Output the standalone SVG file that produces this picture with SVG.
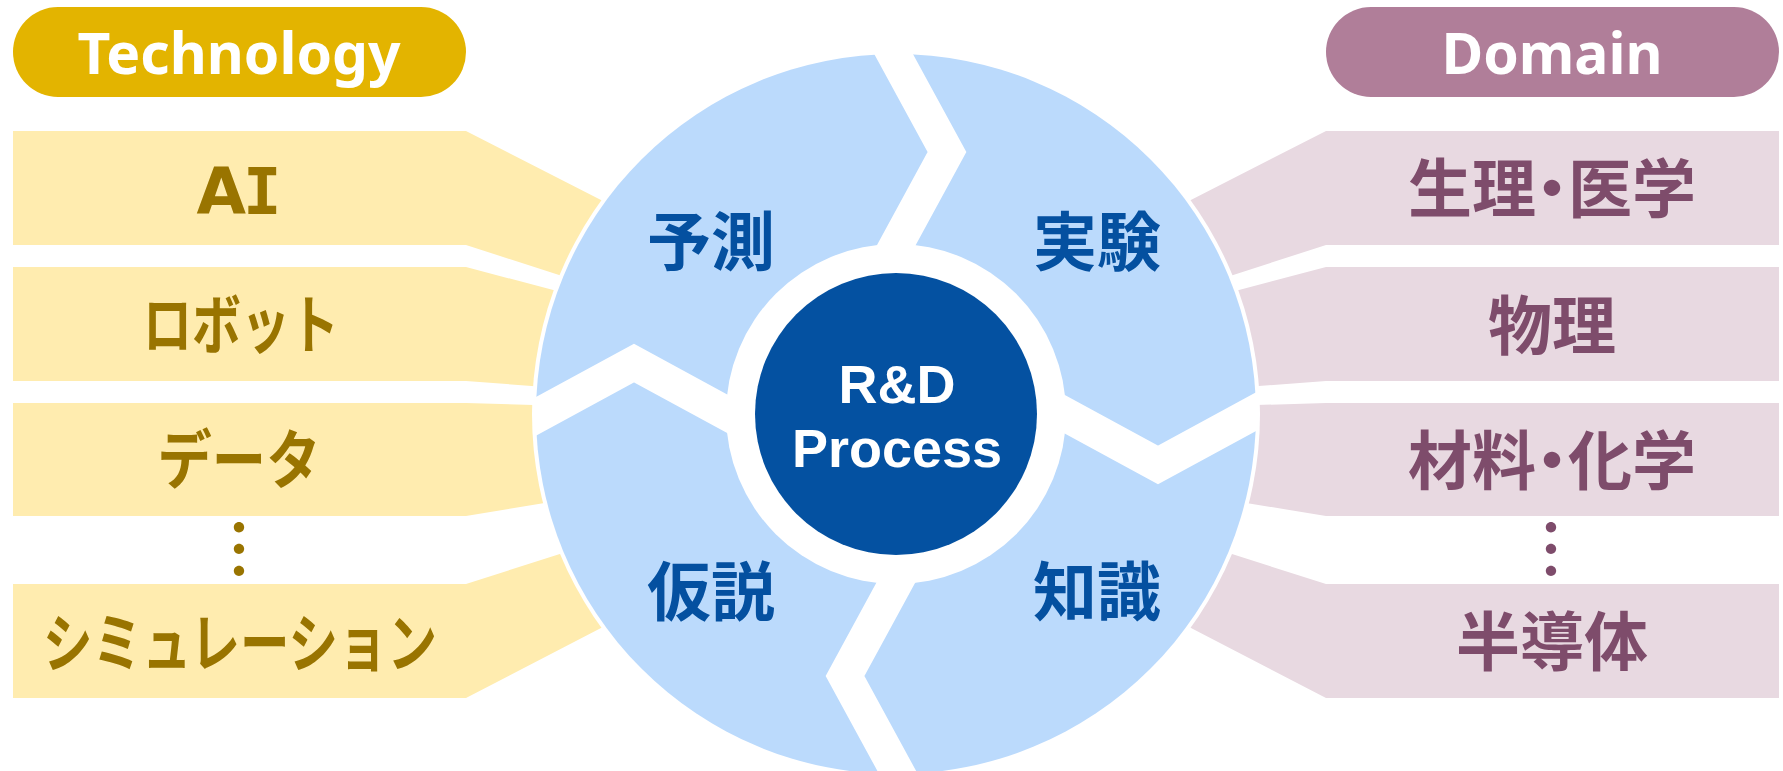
<svg xmlns="http://www.w3.org/2000/svg" width="1783" height="771" viewBox="0 0 1783 771">
  <style>
    .pill-tech { fill: #E3B400; }
    .pill-dom { fill: #B07E99; }
    .bar-tech { fill: #FFECAF; }
    .bar-dom { fill: #E8D9E1; }
    .head { font-family: "Noto Sans", "Open Sans", sans-serif; font-weight: 700; font-size: 57px; fill: #FFFFFF; text-anchor: middle; }
    .jp { font-family: "Noto Sans CJK JP", sans-serif; font-weight: 700; font-size: 64px; text-anchor: middle; }
    .lat { font-family: "DejaVu Sans", sans-serif; font-weight: 700; font-size: 64px; text-anchor: middle; }
    .half { font-feature-settings: "halt"; }
    .tech-txt { fill: #997400; }
    .dom-txt { fill: #7E4C6B; }
    .step { fill: #0450A0; }
    .core-txt { font-family: "Liberation Sans", Arial, sans-serif; font-weight: 700; font-size: 54px; fill: #FFFFFF; text-anchor: middle; }
    .gap { fill: none; stroke: #FFFFFF; stroke-width: 34; stroke-linejoin: miter; }
  </style>
  <defs>
    <clipPath id="ring-clip">
      <circle cx="896" cy="414" r="361"/>
    </clipPath>
  </defs>

  <!-- category headers -->
  <g id="technology-header">
    <rect class="pill-tech" x="13" y="7" width="453" height="90" rx="45" ry="45"/>
    <text class="head" x="239" y="74">Technology</text>
  </g>
  <g id="domain-header">
    <rect class="pill-dom" x="1326" y="7" width="453" height="90" rx="45" ry="45"/>
    <text class="head" x="1552" y="74">Domain</text>
  </g>

  <!-- technology bars (left) -->
  <g id="tech-ai">
    <polygon class="bar-tech" points="13,131 466,131 720,260.8 720,326.9 466,245 13,245"/>
    <text class="lat tech-txt" x="239" y="214">A<tspan dx="-3" font-family="DejaVu Sans Mono">I</tspan></text>
  </g>
  <g id="tech-robot">
    <polygon class="bar-tech" points="13,267 466,267 720,334.2 720,399.9 466,381 13,381"/>
    <text class="jp tech-txt" x="241" y="348" textLength="196" lengthAdjust="spacingAndGlyphs">ロボット</text>
  </g>
  <g id="tech-data">
    <polygon class="bar-tech" points="13,403 466,403 720,410.6 720,474.3 466,516 13,516"/>
    <text class="jp tech-txt" x="239" y="483" textLength="163" lengthAdjust="spacingAndGlyphs">データ</text>
  </g>
  <g id="tech-more">
    <text class="jp tech-txt" x="239" y="573">︙</text>
  </g>
  <g id="tech-simulation">
    <polygon class="bar-tech" points="13,584 466,584 720,503 720,566.3 466,698 13,698"/>
    <text class="jp tech-txt" x="240" y="666" textLength="394" lengthAdjust="spacingAndGlyphs">シミュレーション</text>
  </g>

  <!-- domain bars (right) -->
  <g id="domain-medicine">
    <polygon class="bar-dom" points="1779,131 1326,131 1072,260.8 1072,326.9 1326,245 1779,245"/>
    <text class="jp half dom-txt" x="1552" y="212">生理・医学</text>
  </g>
  <g id="domain-physics">
    <polygon class="bar-dom" points="1779,267 1326,267 1072,334.2 1072,399.9 1326,381 1779,381"/>
    <text class="jp dom-txt" x="1552" y="349">物理</text>
  </g>
  <g id="domain-chemistry">
    <polygon class="bar-dom" points="1779,403 1326,403 1072,410.6 1072,474.3 1326,516 1779,516"/>
    <text class="jp half dom-txt" x="1552" y="484">材料・化学</text>
  </g>
  <g id="domain-more">
    <text class="jp dom-txt" x="1551" y="573">︙</text>
  </g>
  <g id="domain-semiconductor">
    <polygon class="bar-dom" points="1779,584 1326,584 1072,503 1072,566.3 1326,698 1779,698"/>
    <text class="jp dom-txt" x="1552" y="665">半導体</text>
  </g>

  <!-- process ring -->
  <g id="cycle-ring">
    <circle cx="896" cy="414" r="364" fill="#FFFFFF"/>
    <circle cx="896" cy="414" r="360" fill="#BBDAFC"/>
    <circle cx="896" cy="414" r="170" fill="#FFFFFF"/>
  </g>

  <!-- chevron gaps between the steps, pointing clockwise -->
  <g id="cycle-arrows" clip-path="url(#ring-clip)">
    <path class="gap" d="M-29.7,-410 L51,-262 L-15.4,-140" transform="translate(896 414)"/>
    <path class="gap" d="M-29.7,-410 L51,-262 L-15.4,-140" transform="translate(896 414) rotate(90)"/>
    <path class="gap" d="M-29.7,-410 L51,-262 L-15.4,-140" transform="translate(896 414) rotate(180)"/>
    <path class="gap" d="M-29.7,-410 L51,-262 L-15.4,-140" transform="translate(896 414) rotate(270)"/>
  </g>

  <g id="step-prediction">
    <text class="jp step" x="711" y="265">予測</text>
  </g>
  <g id="step-experiment">
    <text class="jp step" x="1097" y="265">実験</text>
  </g>
  <g id="step-knowledge">
    <text class="jp step" x="1097" y="615">知識</text>
  </g>
  <g id="step-hypothesis">
    <text class="jp step" x="711" y="615">仮説</text>
  </g>

  <g id="rd-process">
    <circle cx="896" cy="414" r="141" fill="#0451A1"/>
    <text class="core-txt" x="897" y="403">R&amp;D<tspan x="897" dy="64">Process</tspan></text>
  </g>
</svg>
